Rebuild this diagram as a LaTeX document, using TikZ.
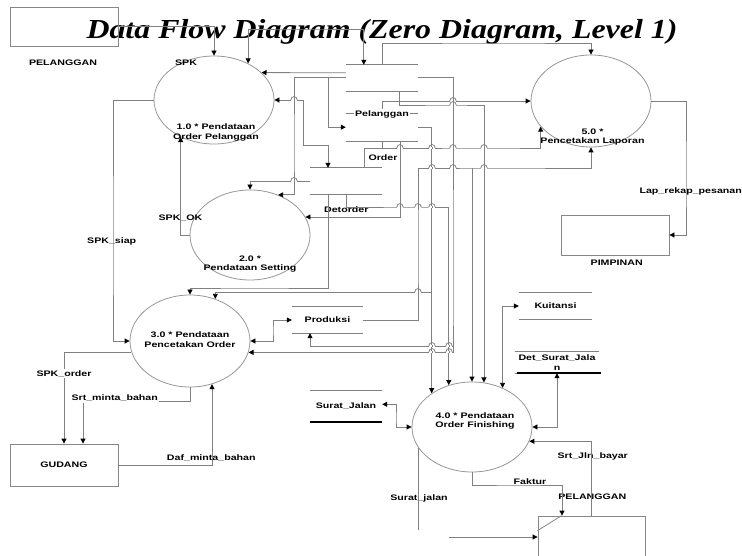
\documentclass[tikz,border=0pt]{standalone}
\usepackage{fontspec}
\newfontfamily\lblfont[FakeStretch=1.33]{Liberation Sans}
\newfontfamily\ttlfont[FakeStretch=1.16]{Liberation Serif}
\usepackage{tikz}
\usetikzlibrary{arrows.meta,shapes.geometric}
\definecolor{flowgray}{RGB}{128,128,128}
\definecolor{ellgray}{RGB}{150,150,150}
\definecolor{boxgray}{RGB}{135,135,135}
\tikzset{
    proc/.style={
    ellipse,draw=ellgray,line width=0.8pt,minimum width=120pt,minimum height=90pt,inner sep=0pt
    },
    ent/.style={
    rectangle,draw=boxgray,line width=0.8pt,inner sep=0pt,minimum width=108pt,
    font=\lblfont\bfseries\fontsize{8}{9.5}\selectfont
    },
    lbl/.style={font=\lblfont\bfseries\fontsize{8}{9.5}\selectfont,inner sep=1pt,align=center},
    storeline/.style={draw=flowgray,line width=0.8pt,-},
    store/.style={rectangle,inner sep=0pt,minimum width=72pt,minimum height=26pt,align=center,
      font=\lblfont\bfseries\fontsize{8}{9.5}\selectfont,
      append after command={(\tikzlastnode.north west) edge[storeline] (\tikzlastnode.north east)
                            (\tikzlastnode.south west) edge[storeline] (\tikzlastnode.south east)}},
    flow/.style={draw=flowgray,line width=0.8pt},
    >={Triangle[length=5pt,width=5pt,color=black]},
}
% small bridge where a horizontal flow jumps over a vertical one
\newcommand{\linehop}[2]{%
  \fill[white] (#1-3.2,#2-1.3) rectangle (#1+3.2,#2+1.3);
  \draw[flow] (#1-3.2,#2) .. controls (#1-3.2,#2-4.5) and (#1+3.2,#2-4.5) .. (#1+3.2,#2);
  \draw[flow] (#1,#2-1.4) -- (#1,#2+1.4);}

\begin{document}
\begin{tikzpicture}[x=1pt,y=-1pt]
  \useasboundingbox (0,0) rectangle (742,556);
  \clip (0,0) rectangle (742,556);

  \node[font=\ttlfont\bfseries\itshape\fontsize{27.5}{30}\selectfont,anchor=base,inner sep=0pt] (ttl) at (382,38.3) {Data Flow Diagram (Zero Diagram, Level 1)};

  % processes
  \node[proc,minimum height=88pt] (p1) at (214,100) {};
  \node[proc]                     (p2) at (250,235) {};
  \node[proc,minimum height=92pt] (p3) at (190,341) {};
  \node[proc]                     (p4) at (472,427) {};
  \node[proc,minimum height=92pt] (p5) at (591,101) {};
  \node[lbl] (l1) at (216,132.5) {1.0 * Pendataan\\Order Pelanggan};
  \node[lbl] (l2) at (250,264)   {2.0 *\\Pendataan Setting};
  \node[lbl] (l3) at (190,339.5) {3.0 * Pendataan\\Pencetakan Order};
  \node[lbl] (l4) at (475,421)   {4.0 * Pendataan\\Order Finishing};
  \node[lbl] (l5) at (592.5,137) {5.0 *\\Pencetakan Laporan};

  % external entities
  \node[ent,minimum height=39pt] (pel1) at (64,26.5) {};
  \node[ent,minimum height=40pt] (pimp) at (615,235) {};
  \node[ent,minimum height=42pt] (gud)  at (64,465) {GUDANG};
  \node[ent,minimum width=107pt,minimum height=60pt] (pel2) at (591.5,546) {};
  \draw[draw=boxgray,line width=0.8pt] ([yshift=-15pt]pel2.north west) -- ([xshift=24pt]pel2.north west);

  % data stores
  \node[store,minimum height=76pt] (spel) at (382,103) {};
  \draw[storeline] ([yshift=-27pt]spel.north west) -- ([yshift=-27pt]spel.north east);
  \draw[storeline] ([yshift=-49pt]spel.north west) -- ([yshift=-49pt]spel.north east);
  \node[lbl,fill=white,inner sep=1.5pt] (lpel) at (382,114) {Pelanggan};
  \node[store] (sord) at (346,181) {};
  \node[store,minimum width=71pt] (sprod) at (327.5,320) {Produksi};
  \node[store,minimum width=73pt] (skuit) at (555.5,306) {Kuitansi};
  \node[store,minimum width=84pt,minimum height=21pt] (sdet) at (557,362.5) {Det\_Surat\_Jala\\n};
  \draw[black,line width=2.2pt] ([xshift=2pt]sdet.south west) -- ([xshift=2pt]sdet.south east);
  \node[store,minimum height=30.7pt] (ssj) at (346,406.3) {Surat\_Jalan};
  \draw[black,line width=2.2pt] (ssj.south west) -- (ssj.south east);

  % labels
  \node[lbl,anchor=base] (lpelt)  at (63,66)       {PELANGGAN};
  \node[lbl,anchor=base] (lspk)   at (186,66)      {SPK};
  \node[lbl,anchor=base] (lord)   at (383,160.5)   {Order};
  \node[lbl,anchor=base] (ldet)   at (346.3,212.5) {Detorder};
  \node[lbl,anchor=base] (lspkok) at (180.5,220.5) {SPK\_OK};
  \node[lbl,anchor=base] (lsiap)  at (111.7,243.5) {SPK\_siap};
  \node[lbl,anchor=base] (lsrt)   at (114.7,400.5) {Srt\_minta\_bahan};
  \node[lbl,anchor=base] (ldaf)   at (211.3,460)   {Daf\_minta\_bahan};
  \node[lbl,anchor=base] (lsjl)   at (419,500)     {Surat\_jalan};
  \node[lbl,anchor=base] (lpel2)  at (592.3,499.5) {PELANGGAN};
  \node[lbl,anchor=base] (lsjb)   at (592.7,458)   {Srt\_Jln\_bayar};
  \node[lbl,anchor=base] (llap)   at (690.7,194)   {Lap\_rekap\_pesanan};
  \node[lbl,anchor=base] (lpimp)  at (616.7,265.7) {PIMPINAN};

  % flows
  \draw[flow,->]  (pel1.east) -| (p1.north);
  \draw[flow,<->] (p1.47) |- (300,29) -| ([xshift=18pt]spel.north west);
  \draw[flow,->]  (spel.north) |- (500,43) -| (p5.north);
  \draw[flow,->]  ([yshift=-8pt]spel.north west) -- (p1.30);
  \draw[flow,->]  ([yshift=-13pt]spel.north west) -| (294,150) |- (p2.55);
  \coordinate (j1) at (328,78);
  \draw[flow,->]  (j1) |- ([yshift=14pt]spel.south west);
  \draw[flow,<->] (p1.east) -| (303,145) -| ([xshift=-18pt]sord.north);
  \draw[flow,->]  (sord.west) -| (p2.north);
  \draw[flow,->]  (p1.west) -| (113,250) |- (p3.west);
  \draw[flow,->]  (p2.west) -| (p1.228);
  \draw[flow,->]  ([xshift=-18pt]sord.south) |- (250,288) -| (p3.north);
  \draw[flow,->]  ([xshift=18pt]spel.south) |- (p2.18);
  \draw[flow,->]  (sord.south) |- (420,207) -| (p4.119);
  \draw[flow,->]  ([yshift=14pt]spel.south east) -| (p4.140);
  \coordinate (j2) at (432,292);
  \draw[flow,->]  (j2) -| (p3.59);
  \draw[flow,->]  (sprod.east) -| (418,250) |- (500,168) -| (p5.south);
  \coordinate (j3) at (472,168);
  \draw[flow,->]  (j3) -- (p4.north);
  \draw[flow,->]  (spel.south) |- (500,148) -| (p5.207);
  \draw[flow]     ([xshift=18pt]sord.north) |- ([yshift=-7pt]spel.south);
  \draw[flow,->]  ([yshift=-13pt]spel.north east) -| (453,300) |- (p3.-11);
  \coordinate (j5) at (453,346);
  \draw[flow,->]  (j5) -| ([xshift=-17.5pt]sprod.south);
  \draw[flow,->]  ([xshift=54pt,yshift=11pt]spel.west) |- (450,105) -| (p4.75);
  \draw[flow,->]  (lpel.north) |- (p5.west);
  \draw[flow,<->] (p4.52) |- (skuit.west);
  \draw[flow,<->] (p4.east) -| (sdet.south);
  \draw[flow,<->] ([yshift=2pt]ssj.east) -| (396,420) |- (p4.west);
  \draw[flow,->]  (pel2.north) |- (p4.-14);
  \draw[flow,->]  (p4.south) |- (520,485) -| ([xshift=-29.5pt]pel2.north);
  \draw[flow,->]  (p4.202) |- ([yshift=9pt]pel2.west);
  \fill[white] (387,530) rectangle (449,541);
  \draw[flow,<->] (p3.east) -| (273,330) |- (sprod.west);
  \draw[flow]     (p3.south) |- ([yshift=-3pt]lsrt.east);
  \draw[flow,->]  ([xshift=-31.7pt]lsrt.south) -- ([xshift=19pt]gud.north);
  \draw[flow,->]  (p3.191) -| (gud.north);
  \draw[flow,->]  (gud.east) -| (p3.-63);
  \draw[flow,->]  (p5.east) -| (686,180) |- (pimp.east);

  % bridges
  \linehop{294}{100}
  \linehop{294}{181}
  \linehop{453}{101}
  \linehop{453}{105}
  \foreach \x in {400,432,453,484} {\linehop{\x}{148}}
  \foreach \x in {432,453,484} {\linehop{\x}{168}}
  \foreach \x in {400,418,432} {\linehop{\x}{207}}
  \linehop{418}{292}
  \foreach \x in {432,449} {\linehop{\x}{346}\linehop{\x}{352}}

  % labels sitting on a flow
  \node[lbl,anchor=base,fill=white] (lspko) at (64,376) {SPK\_order};
  \node[lbl,anchor=base,fill=white,inner xsep=5pt] (lfak) at (530,484.3) {Faktur};
\end{tikzpicture}
\end{document}
